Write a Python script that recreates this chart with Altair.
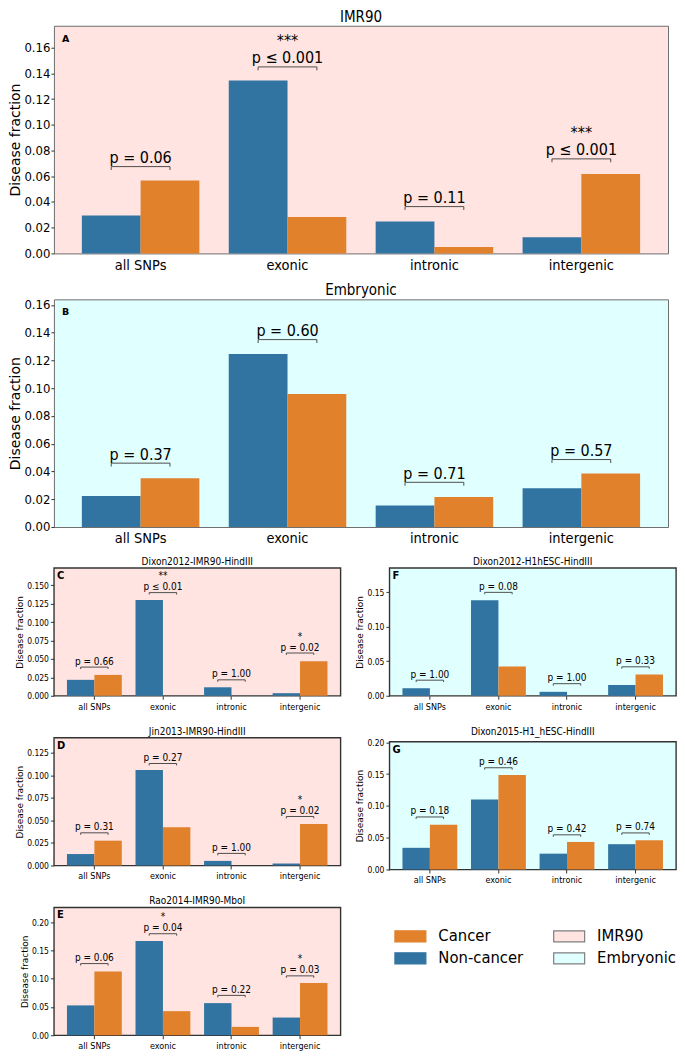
import altair as alt
import pandas as pd

categories = ["all SNPs", "exonic", "intronic", "intergenic"]
groups = ["Non-cancer", "Cancer"]

# Panel A: IMR90
a_noncancer = [0.0294, 0.1345, 0.0249, 0.0126]
a_cancer = [0.0566, 0.0284, 0.0049, 0.0618]
a_bracket = [0.0675, 0.1450, 0.0364, 0.0735]
a_ptext = ["p = 0.06", "p ≤ 0.001", "p = 0.11", "p ≤ 0.001"]
a_stars = ["", "***", "", "***"]

# Panel B: Embryonic
b_noncancer = [0.0224, 0.1246, 0.0155, 0.0279]
b_cancer = [0.0352, 0.0958, 0.0217, 0.0385]
b_bracket = [0.0460, 0.1350, 0.0322, 0.0486]
b_ptext = ["p = 0.37", "p = 0.60", "p = 0.71", "p = 0.57"]
b_stars = ["", "", "", ""]

# Panel C: Dixon2012-IMR90-HindIII
c_noncancer = [0.0216, 0.1300, 0.0115, 0.0035]
c_cancer = [0.0283, 0.0, 0.0, 0.0468]
c_bracket = [0.0389, 0.1400, 0.0216, 0.0580]
c_ptext = ["p = 0.66", "p ≤ 0.01", "p = 1.00", "p = 0.02"]
c_stars = ["", "**", "", "*"]

# Panel D: Jin2013-IMR90-HindIII
d_noncancer = [0.0127, 0.1058, 0.0051, 0.0022]
d_cancer = [0.0275, 0.0424, 0.0, 0.0460]
d_bracket = [0.0362, 0.1130, 0.0134, 0.0543]
d_ptext = ["p = 0.31", "p = 0.27", "p = 1.00", "p = 0.02"]
d_stars = ["", "", "", "*"]

# Panel E: Rao2014-IMR90-MboI
e_noncancer = [0.0528, 0.1665, 0.0568, 0.0313]
e_cancer = [0.1125, 0.0426, 0.0148, 0.0926]
e_bracket = [0.1267, 0.1795, 0.0705, 0.1050]
e_ptext = ["p = 0.06", "p = 0.04", "p = 0.22", "p = 0.03"]
e_stars = ["", "*", "", "*"]

# Panel F: Dixon2012-H1hESC-HindIII
f_noncancer = [0.0109, 0.1387, 0.0057, 0.0156]
f_cancer = [0.0, 0.0425, 0.0, 0.0307]
f_bracket = [0.0226, 0.1500, 0.0175, 0.0420]
f_ptext = ["p = 1.00", "p = 0.08", "p = 1.00", "p = 0.33"]
f_stars = ["", "", "", ""]

# Panel G: Dixon2015-H1_hESC-HindIII
g_noncancer = [0.0341, 0.1100, 0.0249, 0.0398]
g_cancer = [0.0703, 0.1488, 0.0433, 0.0459]
g_bracket = [0.0826, 0.1600, 0.0545, 0.0575]
g_ptext = ["p = 0.18", "p = 0.46", "p = 0.42", "p = 0.74"]
g_stars = ["", "", "", ""]

ticks_ab = [0.0, 0.02, 0.04, 0.06, 0.08, 0.10, 0.12, 0.14, 0.16]
ticks_c = [0.0, 0.025, 0.05, 0.075, 0.10, 0.125, 0.15]
ticks_d = [0.0, 0.025, 0.05, 0.075, 0.10, 0.125]
ticks_e = [0.0, 0.05, 0.10, 0.15, 0.20]
ticks_f = [0.0, 0.05, 0.10, 0.15]
ticks_g = [0.0, 0.05, 0.10, 0.15, 0.20]

legend_labels = ["Cancer", "Non-cancer", "IMR90", "Embryonic"]
legend_col = [0, 0, 1, 1]
legend_row = [0, 1, 0, 1]

BLUE = "#3274a1"
ORANGE = "#e1812c"
PINK = "#ffe4e1"
CYAN = "#e0ffff"
legend_fill = [ORANGE, BLUE, PINK, CYAN]
legend_stroke = [ORANGE, BLUE, "#7f7f7f", "#7f7f7f"]

COND = "DejaVu Sans Condensed, DejaVu Sans"
REG = "DejaVu Sans"


def panel(title, letter, nc, ca, br, ptext, stars, ymax, yticks, fmt, w, h, bg, big):
    if big:
        s = dict(title=15, tick=13, xlab=14.5, ytitle=14, p=16, letter=9.5,
                 frame="#6e6e6e", fw=1.0, xticks=False, dy=-3.5, lpx=8, lpy=8, toff=1,
                 tpad=1, lpad=1, tsize=3)
    else:
        s = dict(title=10, tick=8.5, xlab=9, ytitle=9, p=10, letter=10,
                 frame="#333333", fw=1.4, xticks=True, dy=-2.5, lpx=3, lpy=3, toff=1,
                 tpad=2, lpad=2, tsize=3.5)
    bars = pd.DataFrame({
        "cat": categories * 2,
        "group": [groups[0]] * 4 + [groups[1]] * 4,
        "value": list(nc) + list(ca),
    })
    leg = ymax * 0.015
    rows = []
    for cat, hv in zip(categories, br):
        pts = [(groups[0], hv - leg), (groups[0], hv), (groups[1], hv), (groups[1], hv - leg)]
        for k, (g, v) in enumerate(pts):
            rows.append({"cat": cat, "group": g, "value": v, "ord": k})
    brackets = pd.DataFrame(rows)
    notes = pd.DataFrame({"cat": categories, "value": br, "ptext": ptext, "stars": stars})

    xaxis = alt.Axis(labelFont=COND, labelFontSize=s["xlab"], labelColor="black", labelAngle=0,
                     ticks=s["xticks"], tickSize=3.5, tickColor="#333333", tickWidth=1,
                     labelPadding=3 if s["xticks"] else 5, domain=False, title=None)
    yaxis = alt.Axis(values=yticks, format=fmt, labelFont=COND, labelFontSize=s["tick"],
                     labelColor="black", tickSize=s["tsize"], tickColor="#333333", tickWidth=1,
                     labelPadding=s["lpad"], domain=False, grid=False,
                     title="Disease fraction", titleFont=REG, titleFontSize=s["ytitle"],
                     titleFontWeight="normal", titleColor="black", titlePadding=s["tpad"])
    x = alt.X("cat:N", sort=categories, title=None,
              scale=alt.Scale(domain=categories, paddingInner=0.2, paddingOuter=0.19), axis=xaxis)
    xo = alt.XOffset("group:N", sort=groups, scale=alt.Scale(domain=groups))
    y = alt.Y("value:Q", title="Disease fraction",
              scale=alt.Scale(domain=[0, ymax], nice=False, zero=True), axis=yaxis)
    color = alt.Color("group:N", scale=alt.Scale(domain=groups, range=[BLUE, ORANGE]), legend=None)

    bar_layer = alt.Chart(bars).mark_bar().encode(x=x, xOffset=xo, y=y, color=color)
    br_layer = alt.Chart(brackets).mark_line(color="#4d4d4d", strokeWidth=1).encode(
        x=x, xOffset=xo, y=y, detail="cat:N", order="ord:Q")
    p_layer = alt.Chart(notes).mark_text(font=COND, fontSize=s["p"], baseline="alphabetic",
                                         dy=s["dy"], color="black").encode(x=x, y=y, text="ptext:N")
    st_layer = alt.Chart(notes).mark_text(font=COND, fontSize=s["p"], baseline="alphabetic",
                                          dy=s["dy"] - s["p"] * 1.1, color="black").encode(
        x=x, y=y, text="stars:N")
    let_layer = alt.Chart(pd.DataFrame({"l": [letter]})).mark_text(
        font=REG, fontSize=s["letter"], fontWeight="bold", align="left", baseline="top",
        color="black").encode(text="l:N", x=alt.value(s["lpx"]), y=alt.value(s["lpy"]))

    return alt.layer(bar_layer, br_layer, p_layer, st_layer, let_layer).properties(
        width=w, height=h,
        title=alt.TitleParams(title, font=COND, fontSize=s["title"], fontWeight="normal",
                              color="black", offset=s["toff"], anchor="middle"),
        view=alt.ViewBackground(fill=bg, stroke=s["frame"], strokeWidth=s["fw"]),
    )


BW, BH = 615, 228
SW, SH = 287, 128

A = panel("IMR90", "A", a_noncancer, a_cancer, a_bracket, a_ptext, a_stars, 0.177, ticks_ab, ".2f", BW, BH, PINK, True)
B = panel("Embryonic", "B", b_noncancer, b_cancer, b_bracket, b_ptext, b_stars, 0.164, ticks_ab, ".2f", BW, BH, CYAN, True)
C = panel("Dixon2012-IMR90-HindIII", "C", c_noncancer, c_cancer, c_bracket, c_ptext, c_stars, 0.1735, ticks_c, ".3f", SW, SH, PINK, False)
D = panel("Jin2013-IMR90-HindIII", "D", d_noncancer, d_cancer, d_bracket, d_ptext, d_stars, 0.1416, ticks_d, ".3f", SW, SH, PINK, False)
E = panel("Rao2014-IMR90-MboI", "E", e_noncancer, e_cancer, e_bracket, e_ptext, e_stars, 0.226, ticks_e, ".2f", SW, SH, PINK, False)
F = panel("Dixon2012-H1hESC-HindIII", "F", f_noncancer, f_cancer, f_bracket, f_ptext, f_stars, 0.1854, ticks_f, ".2f", SW, SH, CYAN, False)
G = panel("Dixon2015-H1_hESC-HindIII", "G", g_noncancer, g_cancer, g_bracket, g_ptext, g_stars, 0.201, ticks_g, ".2f", SW, SH, CYAN, False)

leg_df = pd.DataFrame({"label": legend_labels, "col": legend_col, "row": legend_row,
                       "fill": legend_fill, "stroke": legend_stroke})
lx = alt.X("col:Q", scale=alt.Scale(domain=[0, 1], range=[21, 180]), axis=None)
ly = alt.Y("row:Q", scale=alt.Scale(domain=[0, 1], range=[11, 33]), axis=None)
swatches = alt.Chart(leg_df).mark_point(
    shape="M-1,-0.36H1V0.36H-1Z", size=961, filled=True, opacity=1, strokeWidth=1.2
).encode(x=lx, y=ly, fill=alt.Fill("fill:N", scale=None), stroke=alt.Stroke("stroke:N", scale=None))
labels = alt.Chart(leg_df).mark_text(
    font=COND, fontSize=16.5, align="left", baseline="middle", dx=28, color="black"
).encode(x=lx, y=ly, text="label:N")
legend = alt.layer(swatches, labels).properties(
    width=SW, height=44, view=alt.ViewBackground(stroke="transparent", fill="white"))

ind = dict(x="independent", y="independent", xOffset="independent", color="independent")
left_col = alt.vconcat(C, D, E, spacing=13).resolve_scale(**ind)
fg = alt.vconcat(F, G, spacing=13).resolve_scale(**ind)
right_col = alt.vconcat(fg, legend, spacing=38).resolve_scale(**ind)
bottom = alt.hconcat(left_col, right_col, spacing=13).resolve_scale(**ind)

chart = alt.vconcat(A, B, bottom, spacing=10).resolve_scale(**ind).properties(
    padding={"left": 0, "top": 0, "right": 0, "bottom": 0}
).configure(font=COND, background="white")

chart.save("out.html", embed_options={"renderer": "svg", "actions": False})
